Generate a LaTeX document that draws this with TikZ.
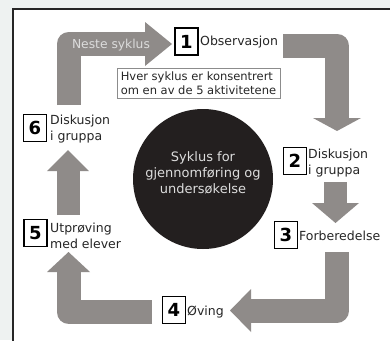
\documentclass[tikz,border=0pt]{standalone}
\usepackage{fontspec}
\setmainfont{DejaVu Sans}
\definecolor{bgout}{HTML}{EEF2F1}
\definecolor{arrgray}{RGB}{143,139,137}
\definecolor{circfill}{HTML}{231F1F}
\definecolor{txtlight}{HTML}{DCDCDC}
\begin{document}
\begin{tikzpicture}[x=1pt,y=-1pt,
  band/.style={draw=arrgray,line width=24pt,line join=round},
  headtri/.style={fill=arrgray},
  numbox/.style={draw=black,line width=1.6pt,fill=white,minimum width=23pt,minimum height=27pt,inner sep=0pt,font=\fontsize{18}{18}\selectfont\bfseries},
  lab/.style={anchor=west,inner sep=0pt,align=left,text=black!85,font=\fontsize{12.5}{15.5}\selectfont},
]
\useasboundingbox (0,0) rectangle (390,340);
\fill[bgout] (0,0) rectangle (390,340);
\fill[white] (13,9) rectangle (391,341);
\draw[line width=1.4pt,black!85] (13,341) -- (13,9) -- (391,9);

% arrow 6 -> 1 (Neste syklus)
\draw[band] (68.5,105) -- (68.5,44) -- (146,44);
\fill[headtri] (145,22) -- (172,44) -- (145,66) -- cycle;
\node[text=txtlight,font=\fontsize{12.3}{14}\selectfont] (neste) at (111,45) {Neste syklus};

% arrow 1 -> 2
\draw[band] (283,45.5) -- (337,45.5) -- (337,119);
\fill[headtri] (313,118) -- (361,118) -- (337,131) -- cycle;

% arrow 2 -> 3
\draw[band,line width=23pt] (335.5,182) -- (335.5,204);
\fill[headtri] (312,203) -- (359,203) -- (335.5,223) -- cycle;

% arrow 3 -> 4
\draw[band] (337,252) -- (337,310.5) -- (250,310.5);
\fill[headtri] (251,289) -- (251,332) -- (230,310.5) -- cycle;

% arrow 4 -> 5
\draw[band] (152,312) -- (68.5,312) -- (68.5,271);
\fill[headtri] (47,272) -- (90,272) -- (68.5,252) -- cycle;

% arrow 5 -> 6
\draw[band,line width=23pt] (68,215) -- (68,170);
\fill[headtri] (47,171) -- (89,171) -- (68,150) -- cycle;

% caption box
\node[draw=black!45,line width=0.6pt,fill=white,minimum width=163pt,minimum height=30pt,inner sep=2pt,align=left,text=black!85,font=\fontsize{11.5}{13.5}\selectfont] (cap) at (198.5,83) {Hver syklus er konsentrert\\om en av de 5 aktivitetene};

% central circle
\node[circle,fill=circfill,minimum size=140pt,inner sep=0pt] (circ) at (203,179) {};
\node[text=txtlight,align=center,font=\fontsize{13}{16}\selectfont] (ctext) at (203,173) {Syklus for\\gjennomføring og\\undersøkelse};

% numbered boxes and labels
\node[numbox] (b1) at (186.5,41.5) {1};
\node[lab] (l1) at (200,42) {Observasjon};
\node[numbox] (b2) at (295,161) {2};
\node[lab] (l2) at (308,163) {Diskusjon\\i gruppa};
\node[numbox] (b3) at (286,235) {3};
\node[lab] (l3) at (299,236) {Forberedelse};
\node[numbox] (b4) at (174,310) {4};
\node[lab] (l4) at (187,312) {Øving};
\node[numbox] (b5) at (35.5,233) {5};
\node[lab] (l5) at (50,236) {Utprøving\\med elever};
\node[numbox] (b6) at (35,128) {6};
\node[lab] (l6) at (50,129) {Diskusjon\\i gruppa};
\end{tikzpicture}
\end{document}
